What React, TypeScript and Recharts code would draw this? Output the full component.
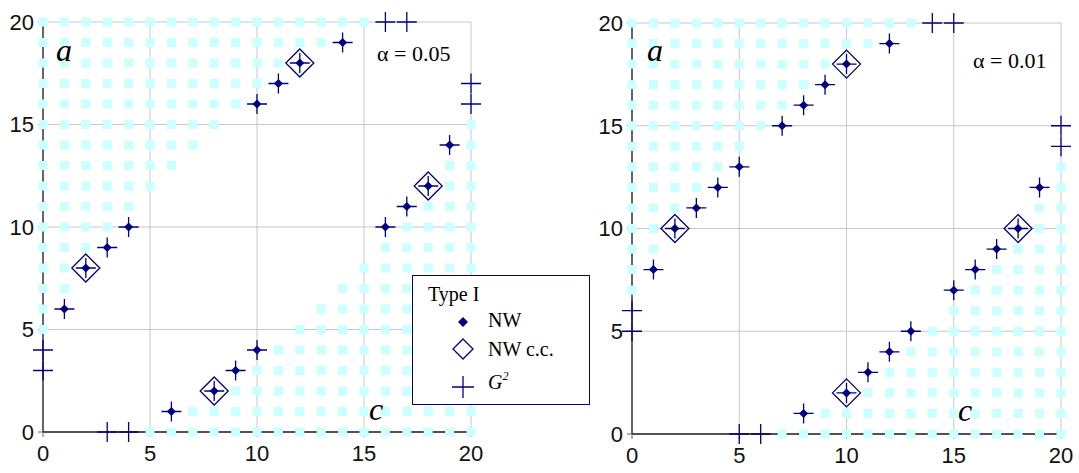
import { ScatterChart, Scatter, XAxis, YAxis, CartesianGrid } from "recharts";

type Pt = { x: number; y: number };
type Row = { y: number; from: number; to: number };

const TICKS = [0, 5, 10, 15, 20];
const NAVY = "#000080";
const CYAN = "#ccffff";

// alpha = 0.05: shaded cells, row by row (region a upper-left, region c lower-right)
const regionA05: Row[] = [
  { y: 20, from: 0, to: 15 }, { y: 19, from: 0, to: 13 }, { y: 18, from: 0, to: 11 },
  { y: 17, from: 0, to: 10 }, { y: 16, from: 0, to: 9 }, { y: 15, from: 0, to: 8 },
  { y: 14, from: 0, to: 7 }, { y: 13, from: 0, to: 6 }, { y: 12, from: 0, to: 5 },
  { y: 11, from: 0, to: 4 }, { y: 10, from: 0, to: 3 }, { y: 9, from: 0, to: 2 },
  { y: 8, from: 0, to: 1 }, { y: 7, from: 0, to: 1 }, { y: 6, from: 0, to: 0 },
  { y: 5, from: 0, to: 0 },
];
const regionC05: Row[] = [
  { y: 0, from: 5, to: 20 }, { y: 1, from: 7, to: 20 }, { y: 2, from: 9, to: 20 },
  { y: 3, from: 10, to: 20 }, { y: 4, from: 11, to: 20 }, { y: 5, from: 12, to: 20 },
  { y: 6, from: 13, to: 20 }, { y: 7, from: 14, to: 20 }, { y: 8, from: 15, to: 20 },
  { y: 9, from: 16, to: 20 }, { y: 10, from: 17, to: 20 }, { y: 11, from: 18, to: 20 },
  { y: 12, from: 19, to: 20 }, { y: 13, from: 19, to: 20 }, { y: 14, from: 20, to: 20 },
  { y: 15, from: 20, to: 20 },
];
const nw05: Pt[] = [
  { x: 1, y: 6 }, { x: 2, y: 8 }, { x: 3, y: 9 }, { x: 4, y: 10 },
  { x: 10, y: 16 }, { x: 11, y: 17 }, { x: 12, y: 18 }, { x: 14, y: 19 },
  { x: 6, y: 1 }, { x: 8, y: 2 }, { x: 9, y: 3 }, { x: 10, y: 4 },
  { x: 16, y: 10 }, { x: 17, y: 11 }, { x: 18, y: 12 }, { x: 19, y: 14 },
];
const nwcc05: Pt[] = [{ x: 2, y: 8 }, { x: 12, y: 18 }, { x: 8, y: 2 }, { x: 18, y: 12 }];
const g2Extra05: Pt[] = [
  { x: 16, y: 20 }, { x: 17, y: 20 }, { x: 20, y: 16 }, { x: 20, y: 17 },
  { x: 0, y: 3 }, { x: 0, y: 4 }, { x: 3, y: 0 }, { x: 4, y: 0 },
];

// alpha = 0.01
const regionA01: Row[] = [
  { y: 20, from: 0, to: 13 }, { y: 19, from: 0, to: 11 }, { y: 18, from: 0, to: 9 },
  { y: 17, from: 0, to: 8 }, { y: 16, from: 0, to: 7 }, { y: 15, from: 0, to: 6 },
  { y: 14, from: 0, to: 5 }, { y: 13, from: 0, to: 4 }, { y: 12, from: 0, to: 3 },
  { y: 11, from: 0, to: 2 }, { y: 10, from: 0, to: 1 }, { y: 9, from: 0, to: 1 },
  { y: 8, from: 0, to: 0 }, { y: 7, from: 0, to: 0 },
];
const regionC01: Row[] = [
  { y: 0, from: 7, to: 20 }, { y: 1, from: 9, to: 20 }, { y: 2, from: 11, to: 20 },
  { y: 3, from: 12, to: 20 }, { y: 4, from: 13, to: 20 }, { y: 5, from: 14, to: 20 },
  { y: 6, from: 15, to: 20 }, { y: 7, from: 16, to: 20 }, { y: 8, from: 17, to: 20 },
  { y: 9, from: 18, to: 20 }, { y: 10, from: 19, to: 20 }, { y: 11, from: 19, to: 20 },
  { y: 12, from: 20, to: 20 }, { y: 13, from: 20, to: 20 },
];
const nw01: Pt[] = [
  { x: 1, y: 8 }, { x: 2, y: 10 }, { x: 3, y: 11 }, { x: 4, y: 12 }, { x: 5, y: 13 },
  { x: 7, y: 15 }, { x: 8, y: 16 }, { x: 9, y: 17 }, { x: 10, y: 18 }, { x: 12, y: 19 },
  { x: 8, y: 1 }, { x: 10, y: 2 }, { x: 11, y: 3 }, { x: 12, y: 4 }, { x: 13, y: 5 },
  { x: 15, y: 7 }, { x: 16, y: 8 }, { x: 17, y: 9 }, { x: 18, y: 10 }, { x: 19, y: 12 },
];
const nwcc01: Pt[] = [{ x: 2, y: 10 }, { x: 10, y: 18 }, { x: 10, y: 2 }, { x: 18, y: 10 }];
const g2Extra01: Pt[] = [
  { x: 14, y: 20 }, { x: 15, y: 20 }, { x: 20, y: 14 }, { x: 20, y: 15 },
  { x: 0, y: 5 }, { x: 0, y: 6 }, { x: 5, y: 0 }, { x: 6, y: 0 },
];

function cells(rows: Row[]): Pt[] {
  const out: Pt[] = [];
  rows.forEach((r) => {
    for (let x = r.from; x <= r.to; x++) out.push({ x, y: r.y });
  });
  return out;
}

const SquareShape = (p: any) => (
  <rect x={p.cx - 4.5} y={p.cy - 4.5} width={9} height={9} fill={CYAN} />
);
const DotShape = (p: any) => {
  const { cx, cy } = p;
  const r = 4.5;
  return <path d={`M${cx},${cy - r}L${cx + r},${cy}L${cx},${cy + r}L${cx - r},${cy}Z`} fill={NAVY} />;
};
const BigDiamond = (p: any) => {
  const { cx, cy } = p;
  const r = 14;
  return (
    <path
      d={`M${cx},${cy - r}L${cx + r},${cy}L${cx},${cy + r}L${cx - r},${cy}Z`}
      fill="none"
      stroke={NAVY}
      strokeWidth={1.3}
    />
  );
};
const PlusShape = (p: any) => {
  const { cx, cy } = p;
  const r = 10;
  return (
    <path d={`M${cx - r},${cy}H${cx + r}M${cx},${cy - r}V${cy + r}`} stroke={NAVY} strokeWidth={1.3} fill="none" />
  );
};

const tickStyle = { fontSize: 22, fill: "#111", fontFamily: "'Liberation Sans', Arial, sans-serif" };

function Panel({
  left,
  width,
  margin,
  yWidth,
  xHeight,
  regionA,
  regionC,
  nw,
  nwcc,
  g2Extra,
}: {
  left: number;
  width: number;
  margin: { top: number; right: number; bottom: number; left: number };
  yWidth: number;
  xHeight: number;
  regionA: Row[];
  regionC: Row[];
  nw: Pt[];
  nwcc: Pt[];
  g2Extra: Pt[];
}) {
  return (
    <div style={{ position: "absolute", left, top: 0 }}>
      <ScatterChart width={width} height={473} margin={margin}>
        <CartesianGrid stroke="#c8c8c8" strokeWidth={1} />
        <XAxis
          type="number"
          dataKey="x"
          domain={[0, 20]}
          ticks={TICKS}
          height={xHeight}
          axisLine={{ stroke: "#222", strokeWidth: 1.3 }}
          tickLine={{ stroke: "#666" }}
          tickSize={5}
          tickMargin={8}
          tick={tickStyle}
        />
        <YAxis
          type="number"
          dataKey="y"
          domain={[0, 20]}
          ticks={TICKS}
          width={yWidth}
          axisLine={{ stroke: "#222", strokeWidth: 1.3 }}
          tickLine={{ stroke: "#666" }}
          tickSize={5}
          tickMargin={4}
          tick={tickStyle}
        />
        <Scatter data={cells(regionA)} shape={SquareShape} isAnimationActive={false} />
        <Scatter data={cells(regionC)} shape={SquareShape} isAnimationActive={false} />
        <Scatter data={nwcc} shape={BigDiamond} isAnimationActive={false} />
        <Scatter data={nw} shape={DotShape} isAnimationActive={false} />
        <Scatter data={[...nw, ...g2Extra]} shape={PlusShape} isAnimationActive={false} />
      </ScatterChart>
    </div>
  );
}

const serif = "'Liberation Serif', 'Times New Roman', serif";

function Label({ x, y, size, italic, children }: any) {
  return (
    <div
      style={{
        position: "absolute",
        left: x,
        top: y,
        fontFamily: serif,
        fontSize: size,
        fontStyle: italic ? "italic" : "normal",
        lineHeight: 1,
        color: "#000",
        whiteSpace: "nowrap",
      }}
    >
      {children}
    </div>
  );
}

function LegendBox() {
  const icon = (child: any, top: number) => (
    <svg style={{ position: "absolute", left: 38, top, overflow: "visible" }} width={24} height={24}>
      {child}
    </svg>
  );
  return (
    <div
      style={{
        position: "absolute",
        left: 412,
        top: 275,
        width: 176,
        height: 128,
        border: `1.5px solid ${NAVY}`,
        background: "#fff",
        fontFamily: serif,
        fontSize: 20,
        color: "#000",
      }}
    >
      <div style={{ position: "absolute", left: 15, top: 8, lineHeight: 1 }}>Type I</div>
      {icon(<path d="M12,7L17,12L12,17L7,12Z" fill={NAVY} />, 34)}
      <div style={{ position: "absolute", left: 75, top: 34, lineHeight: 1 }}>NW</div>
      {icon(<path d="M12,2L22,12L12,22L2,12Z" fill="none" stroke={NAVY} strokeWidth={1.3} />, 61)}
      <div style={{ position: "absolute", left: 75, top: 63, lineHeight: 1 }}>NW c.c.</div>
      {icon(<path d="M1,12H23M12,1V23" stroke={NAVY} strokeWidth={1.3} />, 99)}
      <div style={{ position: "absolute", left: 75, top: 96, lineHeight: 1, fontStyle: "italic" }}>
        G<sup style={{ fontSize: 12, verticalAlign: "top", position: "relative", top: -2 }}>2</sup>
      </div>
    </div>
  );
}

export default function App() {
  return (
    <div style={{ position: "absolute", left: 0, top: 0, width: 1079, height: 473, background: "#fff", overflow: "hidden" }}>
      <Panel
        left={0}
        width={490}
        margin={{ top: 22, right: 19, bottom: 0, left: 0 }}
        yWidth={43}
        xHeight={41}
        regionA={regionA05}
        regionC={regionC05}
        nw={nw05}
        nwcc={nwcc05}
        g2Extra={g2Extra05}
      />
      <Panel
        left={590}
        width={489}
        margin={{ top: 23, right: 18, bottom: 0, left: 0 }}
        yWidth={42}
        xHeight={39}
        regionA={regionA01}
        regionC={regionC01}
        nw={nw01}
        nwcc={nwcc01}
        g2Extra={g2Extra01}
      />
      <Label x={56} y={34} size={32} italic>a</Label>
      <Label x={369} y={393} size={32} italic>c</Label>
      <Label x={647} y={34} size={32} italic>a</Label>
      <Label x={958} y={394} size={32} italic>c</Label>
      <Label x={377} y={43} size={22}>α = 0.05</Label>
      <Label x={973} y={50} size={22}>α = 0.01</Label>
      <LegendBox />
    </div>
  );
}
